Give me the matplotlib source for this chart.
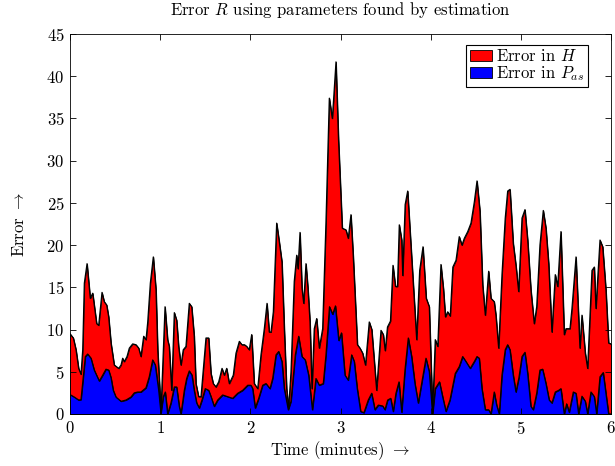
import numpy as np
import matplotlib
matplotlib.use("Agg")
import matplotlib.pyplot as plt

plt.rcParams.update({
    "font.family": "cmr10",
    "mathtext.fontset": "cm",
    "axes.formatter.use_mathtext": True,
    "font.size": 12,
})

# Top of the stack: total error R = error in H + error in P_as
t_sum = [0.000, 0.037, 0.067, 0.096, 0.122, 0.141, 0.159, 0.189, 0.225, 0.252,
         0.269, 0.296, 0.318, 0.355, 0.380, 0.407, 0.429, 0.455, 0.491, 0.540,
         0.566, 0.584, 0.602, 0.632, 0.658, 0.695, 0.732, 0.762, 0.787, 0.817,
         0.843, 0.862, 0.891, 0.924, 0.954, 0.973, 1.009, 1.054, 1.083, 1.101,
         1.128, 1.157, 1.183, 1.205, 1.231, 1.256, 1.286, 1.323, 1.350, 1.378,
         1.397, 1.427, 1.453, 1.478, 1.508, 1.538, 1.564, 1.589, 1.619, 1.649,
         1.686, 1.711, 1.738, 1.767, 1.811, 1.841, 1.878, 1.907, 1.935, 1.960,
         1.988, 2.015, 2.044, 2.082, 2.118, 2.155, 2.185, 2.210, 2.229, 2.255,
         2.292, 2.321, 2.351, 2.377, 2.403, 2.425, 2.451, 2.487, 2.514, 2.529,
         2.551, 2.573, 2.592, 2.617, 2.639, 2.662, 2.684, 2.709, 2.736, 2.765,
         2.802, 2.839, 2.876, 2.909, 2.922, 2.950, 2.978, 3.020, 3.061, 3.086,
         3.116, 3.142, 3.188, 3.216, 3.246, 3.277, 3.319, 3.347, 3.401, 3.449,
         3.475, 3.496, 3.521, 3.554, 3.582, 3.610, 3.632, 3.652, 3.679, 3.690,
         3.717, 3.745, 3.771, 3.804, 3.845, 3.878, 3.915, 3.951, 3.985, 4.022,
         4.051, 4.079, 4.114, 4.142, 4.164, 4.189, 4.217, 4.246, 4.281, 4.317,
         4.347, 4.373, 4.411, 4.447, 4.484, 4.514, 4.547, 4.577, 4.606, 4.643,
         4.669, 4.705, 4.724, 4.754, 4.791, 4.827, 4.854, 4.880, 4.916, 4.946,
         4.976, 5.013, 5.046, 5.076, 5.112, 5.149, 5.176, 5.212, 5.249, 5.279,
         5.309, 5.345, 5.382, 5.409, 5.445, 5.482, 5.501, 5.545, 5.567, 5.612,
         5.656, 5.678, 5.715, 5.741, 5.789, 5.815, 5.833, 5.878, 5.908, 5.944,
         5.974, 6.000]
err_sum = [9.5, 9.0, 7.6, 5.4, 4.7, 7.6, 15.5, 17.8, 13.7, 14.3,
           12.9, 10.7, 10.5, 14.4, 13.3, 12.9, 11.5, 8.4, 5.8, 5.4,
           5.8, 6.6, 6.2, 6.8, 7.8, 8.3, 8.2, 7.8, 6.8, 9.2,
           8.8, 10.9, 15.5, 18.6, 14.7, 7.6, 0.3, 12.7, 8.8, 8.0,
           2.8, 12.0, 11.1, 8.0, 5.8, 7.6, 8.0, 13.1, 12.7, 9.2,
           3.6, 2.05, 2.05, 5.2, 9.0, 9.0, 4.8, 3.6, 3.2, 3.8,
           5.4, 4.6, 5.4, 3.6, 4.6, 7.2, 8.6, 8.2, 8.2, 8.0,
           7.6, 9.4, 3.6, 3.0, 7.0, 10.1, 13.1, 9.7, 9.7, 12.1,
           22.6, 20.4, 18.0, 10.1, 3.0, 0.7, 5.0, 15.7, 18.8, 17.2,
           21.5, 14.9, 13.1, 17.8, 14.9, 10.9, 3.0, 10.1, 11.3, 7.8,
           10.1, 22.8, 37.4, 35.0, 37.0, 41.7, 32.5, 22.0, 21.8, 20.8,
           23.6, 18.6, 8.2, 7.8, 7.2, 5.8, 10.9, 10.0, 2.8, 9.9,
           9.4, 7.5, 10.3, 11.0, 17.6, 15.1, 15.1, 22.4, 20.6, 16.4,
           24.8, 26.4, 21.8, 16.0, 8.8, 17.0, 19.8, 13.7, 12.7, 0.2,
           8.8, 8.0, 17.7, 14.8, 11.5, 12.1, 11.6, 17.4, 18.2, 21.0,
           20.0, 20.8, 21.6, 22.6, 25.1, 27.6, 24.0, 15.3, 11.7, 16.9,
           13.7, 13.3, 11.7, 7.8, 16.5, 23.2, 26.4, 26.6, 20.2, 17.6,
           14.5, 23.2, 24.2, 20.6, 14.7, 10.7, 12.7, 20.0, 24.1, 22.0,
           17.8, 9.7, 16.5, 15.1, 21.6, 9.4, 10.1, 10.1, 12.5, 18.6,
           7.8, 11.7, 7.2, 5.4, 17.0, 17.4, 12.5, 20.6, 19.8, 14.7,
           8.4, 8.3]

# Bottom layer: error in P_as
t_pas = [0.000, 0.048, 0.096, 0.122, 0.141, 0.170, 0.196, 0.233, 0.269, 0.307,
         0.325, 0.363, 0.399, 0.429, 0.455, 0.480, 0.510, 0.566, 0.621, 0.676,
         0.713, 0.751, 0.787, 0.843, 0.879, 0.917, 0.946, 0.984, 1.009, 1.035,
         1.057, 1.083, 1.120, 1.157, 1.183, 1.212, 1.231, 1.268, 1.294, 1.323,
         1.353, 1.378, 1.405, 1.434, 1.464, 1.500, 1.538, 1.564, 1.600, 1.638,
         1.693, 1.749, 1.804, 1.860, 1.915, 1.971, 2.007, 2.026, 2.055, 2.093,
         2.137, 2.174, 2.218, 2.248, 2.285, 2.315, 2.351, 2.377, 2.421, 2.451,
         2.499, 2.536, 2.573, 2.609, 2.647, 2.689, 2.728, 2.765, 2.809, 2.839,
         2.878, 2.913, 2.944, 2.981, 3.011, 3.050, 3.086, 3.124, 3.153, 3.186,
         3.224, 3.260, 3.308, 3.346, 3.382, 3.419, 3.468, 3.493, 3.523, 3.557,
         3.585, 3.615, 3.649, 3.679, 3.715, 3.752, 3.789, 3.826, 3.863, 3.900,
         3.948, 3.985, 4.022, 4.051, 4.098, 4.133, 4.170, 4.214, 4.273, 4.317,
         4.355, 4.392, 4.439, 4.484, 4.514, 4.539, 4.569, 4.606, 4.643, 4.669,
         4.705, 4.732, 4.761, 4.791, 4.827, 4.854, 4.880, 4.916, 4.946, 4.979,
         5.013, 5.046, 5.076, 5.112, 5.138, 5.176, 5.212, 5.242, 5.279, 5.315,
         5.345, 5.382, 5.420, 5.445, 5.482, 5.508, 5.537, 5.582, 5.612, 5.641,
         5.678, 5.715, 5.741, 5.778, 5.815, 5.841, 5.878, 5.914, 5.944, 5.974,
         6.000]
err_pas = [2.3, 2.0, 1.65, 1.7, 3.7, 6.8, 7.1, 6.6, 5.2, 4.3,
           3.9, 4.6, 5.3, 5.2, 4.3, 2.8, 2.0, 1.5, 1.65, 2.0,
           2.5, 2.6, 2.6, 3.1, 4.4, 6.4, 5.8, 2.8, 0.1, 2.05,
           2.6, 0.0, 1.3, 3.2, 3.2, 0.9, 0.0, 2.8, 4.2, 5.1,
           4.6, 2.8, 1.3, 0.7, 1.65, 3.0, 2.8, 2.05, 0.9, 1.65,
           2.25, 2.05, 1.85, 2.45, 2.8, 3.4, 3.4, 3.0, 0.7, 1.85,
           3.4, 3.6, 3.0, 4.2, 7.0, 7.4, 6.2, 3.0, 0.5, 1.5,
           7.0, 9.2, 6.8, 6.4, 4.6, 0.5, 4.2, 3.4, 3.6, 7.0,
           12.7, 11.8, 12.8, 8.7, 9.6, 4.6, 4.0, 7.0, 6.2, 3.0,
           0.3, 0.15, 1.65, 2.45, 0.5, 1.05, 0.95, 0.5, 1.65, 1.85,
           0.3, 2.45, 3.8, 0.2, 5.2, 9.0, 6.8, 3.6, 1.3, 3.6,
           6.6, 5.0, 0.0, 3.0, 3.8, 2.05, 0.3, 1.65, 4.8, 5.6,
           6.8, 6.2, 5.4, 6.2, 6.8, 6.6, 3.0, 0.5, 0.5, 0.0,
           2.6, 1.05, 0.0, 4.6, 7.6, 8.2, 7.6, 4.6, 2.6, 4.3,
           6.8, 7.3, 4.8, 0.9, 0.5, 2.45, 5.2, 5.3, 3.6, 1.65,
           1.3, 2.6, 2.8, 3.0, 0.0, 1.2, 0.2, 2.6, 2.45, 0.0,
           2.1, 1.5, 0.0, 2.6, 2.05, 0.0, 4.4, 4.9, 2.45, 0.0,
           0.0]

x_ticks = [0, 1, 2, 3, 4, 5, 6]
y_ticks = [0, 5, 10, 15, 20, 25, 30, 35, 40, 45]

t_sum = np.asarray(t_sum)
err_sum = np.asarray(err_sum)
t_pas = np.asarray(t_pas)
# the P_as layer never rises above the stack top
err_pas = np.minimum(np.asarray(err_pas), np.interp(t_pas, t_sum, err_sum))

fig = plt.figure(figsize=(6.15, 4.66), dpi=100)
ax = fig.add_axes([70 / 615, 1 - 414 / 466, 541 / 615, 380 / 466])

ax.fill_between(t_sum, 0, err_sum, facecolor="#ff0000", edgecolor="none",
                label="Error in $H$")
ax.fill_between(t_pas, 0, err_pas, facecolor="#0000ff", edgecolor="none",
                label="Error in $P_{as}$")
ax.plot(t_sum, err_sum, color="black", lw=0.9)
ax.plot(t_pas, err_pas, color="black", lw=0.9)

ax.set_xlim(0, 6)
ax.set_ylim(0, 45)
ax.set_xticks(x_ticks)
ax.set_yticks(y_ticks)
ax.tick_params(direction="in", top=True, right=True, length=4, width=0.6,
               labelsize=12, pad=4)
for s in ax.spines.values():
    s.set_linewidth(0.6)

ax.set_title("Error $R$ using parameters found by estimation", fontsize=12, pad=14)
ax.set_xlabel(r"Time (minutes) $\rightarrow$", fontsize=12, labelpad=2)
ax.set_ylabel(r"Error $\rightarrow$", fontsize=12, labelpad=14)

handles, labels = ax.get_legend_handles_labels()
for h in handles:
    h.set_edgecolor("black")
    h.set_linewidth(0.6)
leg = ax.legend(handles, labels, loc="upper right", bbox_to_anchor=(0.957, 0.971),
                fancybox=False, framealpha=1, edgecolor="black", fontsize=12,
                handlelength=1.35, handleheight=0.7, handletextpad=0.25,
                borderpad=0.2, labelspacing=0.0, borderaxespad=0)
leg.get_frame().set_linewidth(0.8)

fig.savefig("out.png", dpi=100)
